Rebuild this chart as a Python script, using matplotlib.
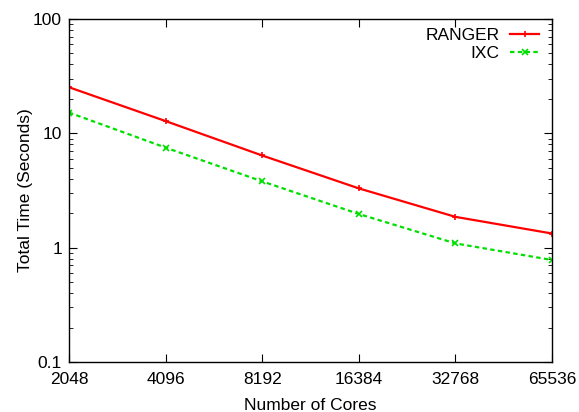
import matplotlib
matplotlib.use('Agg')
import matplotlib.pyplot as plt
import numpy as np
from matplotlib.ticker import FixedLocator, NullFormatter, LogLocator

plt.rcParams['font.family'] = ['Liberation Sans', 'DejaVu Sans']

cores = [2048, 4096, 8192, 16384, 32768, 65536]
ranger = [25.3, 12.8, 6.4, 3.3, 1.86, 1.33]
ixc = [15.2, 7.5, 3.8, 1.97, 1.09, 0.78]

fig = plt.figure(figsize=(5.79, 4.12), dpi=100)
ax = fig.add_axes([69 / 579, 1 - 362 / 412, (552 - 69) / 579, (362 - 19) / 412])

ax.plot(cores, ranger, color='#ff0000', lw=1.6, marker='+', ms=5, mew=1.2, label='RANGER')
ax.plot(cores, ixc, color='#00e000', lw=1.6, ls=(0, (2, 1.5)), marker='x', ms=4, mew=1.2, label='IXC')

ax.set_xscale('log', base=2)
ax.set_yscale('log')
ax.set_xlim(2048, 65536)
ax.set_ylim(0.1, 100)
ax.xaxis.set_major_locator(FixedLocator(cores))
ax.set_xticklabels([str(c) for c in cores])
ax.xaxis.set_minor_locator(FixedLocator([]))
ax.set_yticks([0.1, 1, 10, 100])
ax.set_yticklabels(['0.1', '1', '10', '100'])
ax.yaxis.set_minor_locator(LogLocator(base=10, subs=np.arange(2, 10)))
ax.yaxis.set_minor_formatter(NullFormatter())

ax.tick_params(which='both', direction='in', top=True, right=True, labelsize=12.5)
ax.tick_params(which='major', length=6)
ax.tick_params(which='minor', length=3)
ax.tick_params(axis='x', pad=7)
ax.tick_params(axis='y', pad=5)
for s in ax.spines.values():
    s.set_linewidth(1.0)

ax.set_xlabel('Number of Cores', fontsize=12.5, labelpad=8)
ax.set_ylabel('Total Time (Seconds)', fontsize=12.5, labelpad=0)

ax.legend(loc='upper right', frameon=False, markerfirst=False, fontsize=12.5,
          handlelength=1.7, handletextpad=0.6, labelspacing=0.15,
          borderaxespad=0.0, borderpad=0.5, bbox_to_anchor=(0.992, 1.0))

fig.savefig('out.png', dpi=100)
